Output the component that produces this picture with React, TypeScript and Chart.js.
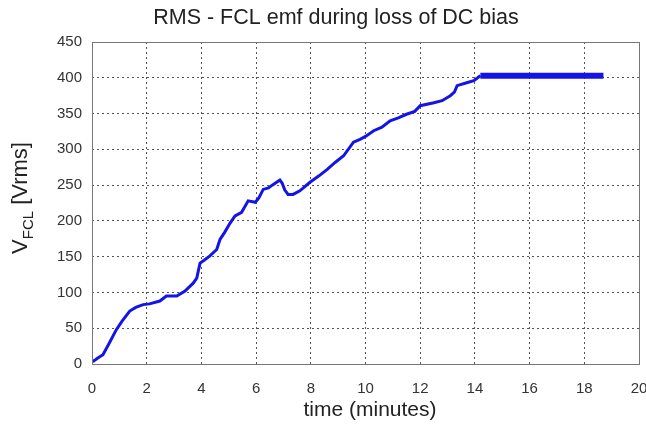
import React, { useEffect, useRef } from "react";
import { Chart, registerables } from "chart.js";

Chart.register(...registerables);

const titleText = "RMS - FCL emf during loss of DC bias";
const xTitle = "time (minutes)";
const xTicks = [0, 2, 4, 6, 8, 10, 12, 14, 16, 18, 20];
const yTicks = [0, 50, 100, 150, 200, 250, 300, 350, 400, 450];

const timeRise = [
  0, 0.06, 0.2, 0.4, 0.6, 0.89, 1.1, 1.38, 1.6, 1.87, 2.1, 2.48, 2.72, 3.1, 3.4, 3.7, 3.83, 3.95,
  4.1, 4.31, 4.56, 4.68, 4.85, 5.05, 5.23, 5.47, 5.71, 5.97, 6.1, 6.26, 6.45, 6.63, 6.87, 6.95,
  7.05, 7.17, 7.35, 7.6, 7.97, 8.3, 8.6, 8.9, 9.2, 9.56, 9.8, 10.0, 10.3, 10.6, 10.9, 11.2, 11.5,
  11.8, 12.0, 12.5, 12.8, 13.1, 13.25, 13.35, 13.7, 13.96, 14.1, 14.2,
];
const vRise = [
  5, 4, 8, 13, 27, 48, 60, 74, 79, 83, 84, 88, 95, 95, 102, 113, 120, 141,
  145, 151, 160, 174, 184, 197, 207, 212, 228, 226, 232, 244, 246, 251, 257, 253,
  243, 237, 237, 242, 254, 263, 272, 282, 291, 310, 314, 318, 326, 331, 340, 344, 349,
  353, 361, 365, 368, 375, 380, 389, 393, 396, 400, 403,
];
const timeFlat = [14.2, 18.7];
const vFlat = [403, 403];

export default function App() {
  const ref = useRef<HTMLCanvasElement | null>(null);
  useEffect(() => {
    document.body.style.margin = "0";
    const canvas = ref.current;
    if (!canvas) return;
    const font = "'Liberation Sans', Arial, sans-serif";
    const framePlugin = {
      id: "frame",
      afterDatasetsDraw(chart: any) {
        const { ctx, chartArea } = chart;
        ctx.save();
        ctx.strokeStyle = "#777";
        ctx.lineWidth = 1;
        ctx.strokeRect(chartArea.left + 0.5, chartArea.top + 0.5, chartArea.right - chartArea.left, chartArea.bottom - chartArea.top);
        ctx.restore();
      },
      afterDraw(chart: any) {
        const { ctx } = chart;
        ctx.save();
        ctx.fillStyle = "#222";
        ctx.textAlign = "center";
        ctx.textBaseline = "middle";
        ctx.font = `21.5px ${font}`;
        ctx.fillText(titleText, 336, 18);
        ctx.font = `21px ${font}`;
        ctx.fillText(xTitle, 370, 410);
        // y title with subscript
        ctx.translate(19, 198);
        ctx.rotate(-Math.PI / 2);
        ctx.textAlign = "left";
        ctx.textBaseline = "alphabetic";
        const big = `22px ${font}`;
        const small = `15px ${font}`;
        ctx.font = big;
        const wV = ctx.measureText("V").width;
        ctx.font = small;
        const wF = ctx.measureText("FCL").width;
        ctx.font = big;
        const wB = ctx.measureText(" [Vrms]").width;
        const total = wV + wF + wB;
        let x = -total / 2;
        ctx.font = big;
        ctx.fillText("V", x, 8);
        x += wV;
        ctx.font = small;
        ctx.fillText("FCL", x, 14);
        x += wF;
        ctx.font = big;
        ctx.fillText(" [Vrms]", x, 8);
        ctx.restore();
      },
    };
    const chart = new Chart(canvas, {
      type: "line",
      data: {
        datasets: [
          {
            data: timeRise.map((t, i) => ({ x: t, y: vRise[i] })),
            borderColor: "#1414e6",
            borderWidth: 3,
            pointRadius: 0,
            tension: 0,
            fill: false,
          },
          {
            data: timeFlat.map((t, i) => ({ x: t, y: vFlat[i] })),
            borderColor: "#1414e6",
            borderWidth: 6,
            pointRadius: 0,
            tension: 0,
            fill: false,
          },
        ],
      },
      options: {
        animation: false,
        responsive: false,
        maintainAspectRatio: false,
        layout: { padding: { top: 42, right: 7, left: 0, bottom: 0 } },
        plugins: { legend: { display: false }, tooltip: { enabled: false }, title: { display: false } },
        scales: {
          x: {
            type: "linear",
            min: 0,
            max: 20,
            afterBuildTicks(axis: any) {
              axis.ticks = xTicks.map((v) => ({ value: v }));
            },
            afterFit(axis: any) {
              axis.height = 62;
              axis.paddingRight = 0;
              axis.paddingLeft = 0;
            },
            grid: { color: "#555", drawTicks: false, lineWidth: 1 },
            border: { display: false, dash: [2, 3] },
            ticks: { color: "#333", font: { family: font, size: 15 }, padding: 16, maxRotation: 0, autoSkip: false },
          },
          y: {
            type: "linear",
            min: 0,
            max: 450,
            afterBuildTicks(axis: any) {
              axis.ticks = yTicks.map((v) => ({ value: v }));
            },
            afterFit(axis: any) {
              axis.width = 92;
              axis.paddingTop = 0;
              axis.paddingBottom = 0;
            },
            grid: { color: "#555", drawTicks: false, lineWidth: 1 },
            border: { display: false, dash: [2, 3] },
            ticks: { color: "#333", font: { family: font, size: 15 }, padding: 10, autoSkip: false },
          },
        },
      },
      plugins: [framePlugin],
    });
    return () => chart.destroy();
  }, []);
  return (
    <div style={{ width: 646, height: 426, background: "#fff" }}>
      <canvas ref={ref} width={646} height={426} style={{ display: "block" }} />
    </div>
  );
}
